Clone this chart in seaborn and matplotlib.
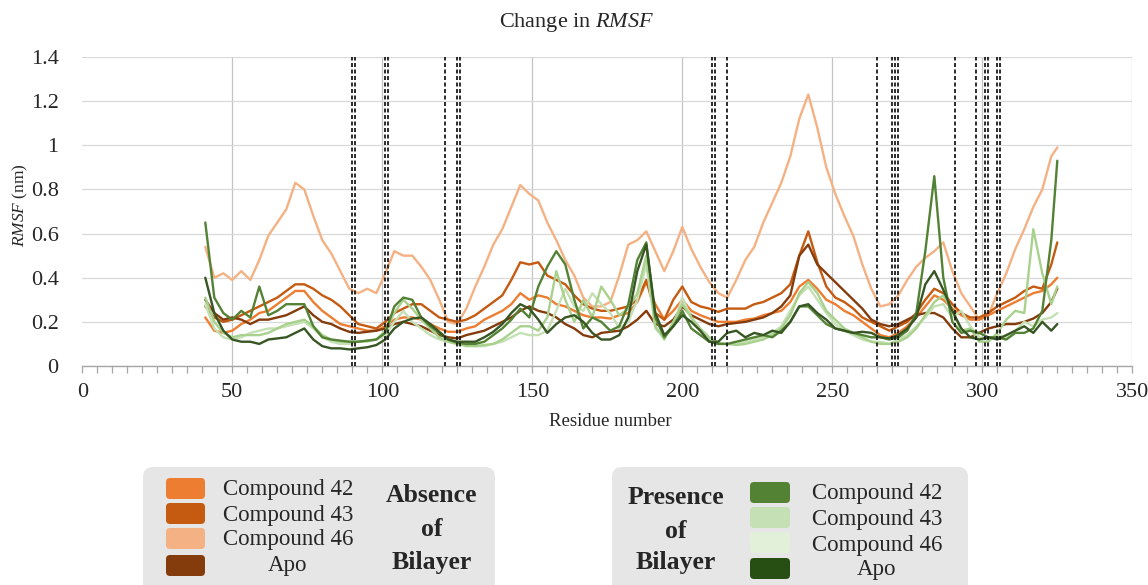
import numpy as np
import pandas as pd
import matplotlib
matplotlib.use("Agg")
import matplotlib.pyplot as plt
import seaborn as sns
from matplotlib.patches import FancyBboxPatch
from matplotlib.transforms import Affine2D
from matplotlib.ticker import MultipleLocator

# ---------------- data ----------------
residues = list(range(41, 324, 3)) + [325]

abs_c42 = [0.22,0.16,0.15,0.16,0.19,0.21,0.24,0.25,0.28,0.31,
           0.34,0.34,0.29,0.25,0.22,0.19,0.18,0.17,0.16,0.16,
           0.18,0.21,0.22,0.22,0.21,0.19,0.17,0.155,0.155,0.17,
           0.18,0.21,0.23,0.25,0.28,0.33,0.30,0.32,0.31,0.28,
           0.27,0.25,0.23,0.22,0.22,0.215,0.23,0.24,0.29,0.38,
           0.28,0.21,0.25,0.30,0.25,0.23,0.215,0.20,0.20,0.20,
           0.21,0.215,0.23,0.24,0.25,0.29,0.36,0.39,0.35,0.30,
           0.28,0.25,0.23,0.20,0.17,0.14,0.13,0.15,0.18,0.22,
           0.27,0.32,0.30,0.26,0.23,0.21,0.21,0.23,0.25,0.27,
           0.29,0.31,0.33,0.34,0.37,0.40]
abs_c43 = [0.27,0.22,0.20,0.21,0.23,0.25,0.27,0.29,0.31,0.34,
           0.37,0.37,0.35,0.32,0.30,0.27,0.23,0.19,0.18,0.17,
           0.20,0.24,0.26,0.28,0.28,0.25,0.22,0.21,0.20,0.21,
           0.23,0.26,0.29,0.32,0.39,0.47,0.46,0.47,0.41,0.39,
           0.37,0.32,0.28,0.26,0.25,0.25,0.26,0.27,0.30,0.39,
           0.24,0.21,0.30,0.36,0.29,0.27,0.26,0.245,0.26,0.26,
           0.26,0.28,0.29,0.31,0.33,0.37,0.50,0.61,0.47,0.36,
           0.31,0.29,0.26,0.22,0.20,0.18,0.16,0.18,0.20,0.24,
           0.30,0.35,0.33,0.28,0.24,0.22,0.22,0.24,0.27,0.29,
           0.31,0.34,0.36,0.35,0.46,0.56]
abs_c46 = [0.54,0.40,0.42,0.39,0.43,0.39,0.48,0.59,0.65,0.71,
           0.83,0.80,0.68,0.57,0.51,0.43,0.35,0.33,0.35,0.33,
           0.42,0.52,0.50,0.50,0.45,0.39,0.30,0.20,0.19,0.26,
           0.36,0.45,0.55,0.62,0.72,0.82,0.78,0.75,0.65,0.57,
           0.48,0.41,0.31,0.27,0.27,0.29,0.41,0.55,0.57,0.61,
           0.52,0.43,0.52,0.63,0.53,0.45,0.38,0.33,0.31,0.39,
           0.48,0.54,0.65,0.74,0.83,0.95,1.12,1.23,1.08,0.90,
           0.78,0.68,0.59,0.46,0.35,0.27,0.28,0.32,0.39,0.45,
           0.49,0.52,0.56,0.43,0.33,0.27,0.21,0.23,0.33,0.42,
           0.53,0.62,0.72,0.80,0.95,0.99]
abs_apo = [0.30,0.24,0.21,0.22,0.21,0.19,0.21,0.21,0.22,0.23,
           0.25,0.27,0.23,0.20,0.19,0.17,0.155,0.15,0.155,0.16,
           0.17,0.19,0.20,0.19,0.18,0.16,0.14,0.13,0.125,0.14,
           0.15,0.16,0.18,0.20,0.22,0.25,0.27,0.25,0.24,0.22,
           0.19,0.17,0.14,0.13,0.15,0.155,0.16,0.18,0.21,0.25,
           0.19,0.18,0.21,0.27,0.23,0.21,0.19,0.18,0.19,0.195,
           0.20,0.21,0.22,0.24,0.27,0.32,0.50,0.55,0.46,0.42,
           0.38,0.34,0.30,0.26,0.21,0.19,0.18,0.19,0.21,0.23,
           0.24,0.24,0.22,0.17,0.13,0.13,0.15,0.17,0.18,0.19,
           0.19,0.20,0.215,0.24,0.29,0.35]
pres_c42 = [0.65,0.31,0.24,0.21,0.25,0.22,0.36,0.23,0.25,0.28,
            0.28,0.28,0.18,0.13,0.12,0.115,0.11,0.11,0.115,0.12,
            0.15,0.27,0.31,0.30,0.22,0.18,0.15,0.12,0.105,0.10,
            0.10,0.11,0.14,0.17,0.21,0.26,0.22,0.36,0.45,0.52,
            0.46,0.30,0.17,0.22,0.20,0.16,0.18,0.28,0.48,0.56,
            0.22,0.13,0.18,0.25,0.17,0.14,0.11,0.10,0.10,0.11,
            0.12,0.13,0.14,0.13,0.16,0.20,0.27,0.27,0.23,0.19,
            0.17,0.16,0.15,0.14,0.13,0.13,0.12,0.13,0.16,0.24,
            0.52,0.86,0.40,0.20,0.15,0.16,0.15,0.13,0.13,0.12,
            0.15,0.15,0.17,0.25,0.57,0.93]
pres_c43 = [0.31,0.20,0.15,0.13,0.14,0.14,0.14,0.15,0.17,0.19,
            0.20,0.21,0.18,0.14,0.12,0.11,0.11,0.11,0.115,0.12,
            0.16,0.24,0.30,0.26,0.21,0.17,0.13,0.11,0.10,0.09,
            0.09,0.095,0.10,0.12,0.15,0.18,0.18,0.16,0.22,0.43,
            0.30,0.20,0.30,0.22,0.36,0.30,0.23,0.26,0.33,0.50,
            0.18,0.12,0.20,0.28,0.22,0.17,0.13,0.105,0.10,0.095,
            0.10,0.11,0.12,0.14,0.17,0.23,0.33,0.38,0.33,0.25,
            0.21,0.17,0.15,0.13,0.11,0.10,0.10,0.11,0.13,0.17,
            0.23,0.29,0.32,0.25,0.16,0.17,0.11,0.11,0.15,0.21,
            0.25,0.24,0.62,0.42,0.28,0.36]
pres_c46 = [0.28,0.17,0.13,0.12,0.13,0.15,0.16,0.17,0.17,0.18,
            0.19,0.20,0.17,0.13,0.11,0.10,0.10,0.11,0.11,0.12,
            0.14,0.20,0.25,0.20,0.17,0.14,0.12,0.11,0.10,0.095,
            0.09,0.09,0.10,0.11,0.13,0.15,0.14,0.14,0.16,0.25,
            0.35,0.27,0.25,0.33,0.28,0.24,0.17,0.20,0.30,0.46,
            0.17,0.13,0.18,0.31,0.22,0.16,0.12,0.10,0.10,0.10,
            0.11,0.12,0.13,0.15,0.18,0.25,0.32,0.36,0.30,0.24,
            0.19,0.16,0.14,0.12,0.11,0.11,0.10,0.12,0.14,0.18,
            0.22,0.27,0.28,0.22,0.25,0.18,0.13,0.12,0.14,0.13,
            0.16,0.20,0.18,0.21,0.22,0.24]
pres_apo = [0.40,0.24,0.16,0.12,0.11,0.11,0.10,0.12,0.125,0.13,
            0.15,0.17,0.12,0.09,0.08,0.08,0.075,0.08,0.085,0.095,
            0.12,0.17,0.20,0.215,0.22,0.19,0.155,0.12,0.11,0.11,
            0.11,0.13,0.155,0.19,0.24,0.28,0.26,0.21,0.15,0.19,
            0.22,0.23,0.20,0.15,0.12,0.12,0.14,0.22,0.43,0.55,
            0.24,0.14,0.18,0.23,0.20,0.16,0.11,0.11,0.15,0.16,
            0.13,0.15,0.14,0.16,0.15,0.20,0.27,0.28,0.24,0.21,
            0.17,0.16,0.15,0.155,0.15,0.13,0.125,0.14,0.17,0.22,
            0.37,0.43,0.345,0.25,0.17,0.13,0.12,0.13,0.12,0.14,
            0.16,0.18,0.15,0.20,0.16,0.19]

dashed_residues = [90, 91, 101, 102, 121, 125, 126, 210, 211, 215,
                   265, 270, 271, 272, 291, 298, 301, 302, 305, 306]

x_ticks = [0, 50, 100, 150, 200, 250, 300, 350]
y_ticks = [0, 0.2, 0.4, 0.6, 0.8, 1.0, 1.2, 1.4]
y_tick_labels = ["0", "0.2", "0.4", "0.6", "0.8", "1", "1.2", "1.4"]

legend_labels = ["Compound 42", "Compound 43", "Compound 46", "Apo"]
abs_legend_colors = ["#ED7D31", "#C55A11", "#F4B183", "#843C0C"]
pres_legend_colors = ["#548235", "#C5E0B4", "#E2F0D9", "#274E13"]

# ---------------- style ----------------
sns.set_theme(style="white")
plt.rcParams["font.family"] = ["Liberation Serif", "DejaVu Serif"]
plt.rcParams["mathtext.fontset"] = "custom"
plt.rcParams["mathtext.rm"] = "Liberation Serif"
plt.rcParams["mathtext.it"] = "Liberation Serif:italic"
plt.rcParams["mathtext.bf"] = "Liberation Serif:bold"

W, H = 1148, 585
fig = plt.figure(figsize=(W / 100, H / 100), dpi=100)
fig.patch.set_facecolor("white")

ax_l, ax_r, ax_t, ax_b = 82.3, 1132.3, 57, 366
ax = fig.add_axes([ax_l / W, 1 - ax_b / H, (ax_r - ax_l) / W, (ax_b - ax_t) / H])

series = [
    (abs_c46, "#F4B183"),
    (abs_c42, "#ED7D31"),
    (abs_c43, "#C55A11"),
    (abs_apo, "#843C0C"),
    (pres_c46, "#C5E0B4"),
    (pres_c43, "#A9D18E"),
    (pres_c42, "#548235"),
    (pres_apo, "#375623"),
]
for vals, col in series:
    df = pd.DataFrame({"residue": residues, "rmsf": vals})
    sns.lineplot(data=df, x="residue", y="rmsf", ax=ax, color=col,
                 linewidth=1.7, zorder=3)

for r in dashed_residues:
    ax.axvline(r, color="#1a1a1a", linewidth=1.3, linestyle=(0, (2.2, 1.4)), zorder=4)

ax.set_xlim(0, 350)
ax.set_ylim(0, 1.4)
ax.set_xticks(x_ticks)
ax.xaxis.set_minor_locator(MultipleLocator(5))
ax.set_yticks(y_ticks)
ax.set_yticklabels(y_tick_labels)

ax.grid(axis="y", color="#D9D9D9", linewidth=0.9, zorder=0)
ax.grid(axis="x", which="major", color="#C4C4C4", linewidth=0.9, zorder=0)
ax.get_xgridlines()[0].set_visible(False)
ax.set_axisbelow(True)

for s in ["left", "top", "right"]:
    ax.spines[s].set_visible(False)
ax.spines["bottom"].set_color("#A6A6A6")
ax.spines["bottom"].set_linewidth(1.0)

ax.tick_params(axis="x", which="both", direction="out", length=5, width=0.9,
               color="#A6A6A6", labelsize=16, pad=7, bottom=True)
ax.tick_params(axis="y", length=0, labelsize=16, pad=17)
ax.set_xlabel("")
ax.set_ylabel("")

px = Affine2D().scale(1 / W, 1 / H) + fig.transFigure


def T(x, y, s, **kw):
    fig.text(x, H - y, s, transform=px, **kw)


T(577, 22, r"Change in $\mathit{RMSF}$", ha="center", va="center", fontsize=16)
T(610, 421, "Residue number", ha="center", va="center", fontsize=13.5)
T(20, 205, r"$\mathit{RMSF}$ (nm)", ha="center", va="center", rotation=90, fontsize=12.5)

# ---------------- custom legends ----------------
def box(x0, x1, y0, y1, r, color):
    p = FancyBboxPatch((x0 + r, H - y1 + r), (x1 - x0) - 2 * r, (y1 - y0) - 2 * r,
                       boxstyle=f"round,pad={r}", transform=px,
                       facecolor=color, edgecolor="none")
    fig.patches.append(p)


box(143, 495, 467, 610, 10, "#E7E6E6")
box(612, 968, 467, 610, 10, "#E7E6E6")

sw_y = [478, 503, 528, 555]
txt_y_abs = [490, 515, 540, 566]
for i in range(4):
    box(166, 205, sw_y[i], sw_y[i] + 21, 4, abs_legend_colors[i])
    T(288, txt_y_abs[i], legend_labels[i], ha="center", va="center", fontsize=16.5)
for yy, s in zip([496, 529, 562], ["Absence", "of", "Bilayer"]):
    T(432, yy, s, ha="center", va="center", fontsize=18.5, fontweight="bold")

sw_y2 = [482, 507, 532, 558]
txt_y_pres = [493, 519, 545, 570]
for i in range(4):
    box(750, 790, sw_y2[i], sw_y2[i] + 21, 4, pres_legend_colors[i])
    T(877, txt_y_pres[i], legend_labels[i], ha="center", va="center", fontsize=16.5)
for yy, s in zip([497, 531, 562], ["Presence", "of", "Bilayer"]):
    T(676, yy, s, ha="center", va="center", fontsize=18.5, fontweight="bold")

fig.savefig("out.png", dpi=100, facecolor="white")
